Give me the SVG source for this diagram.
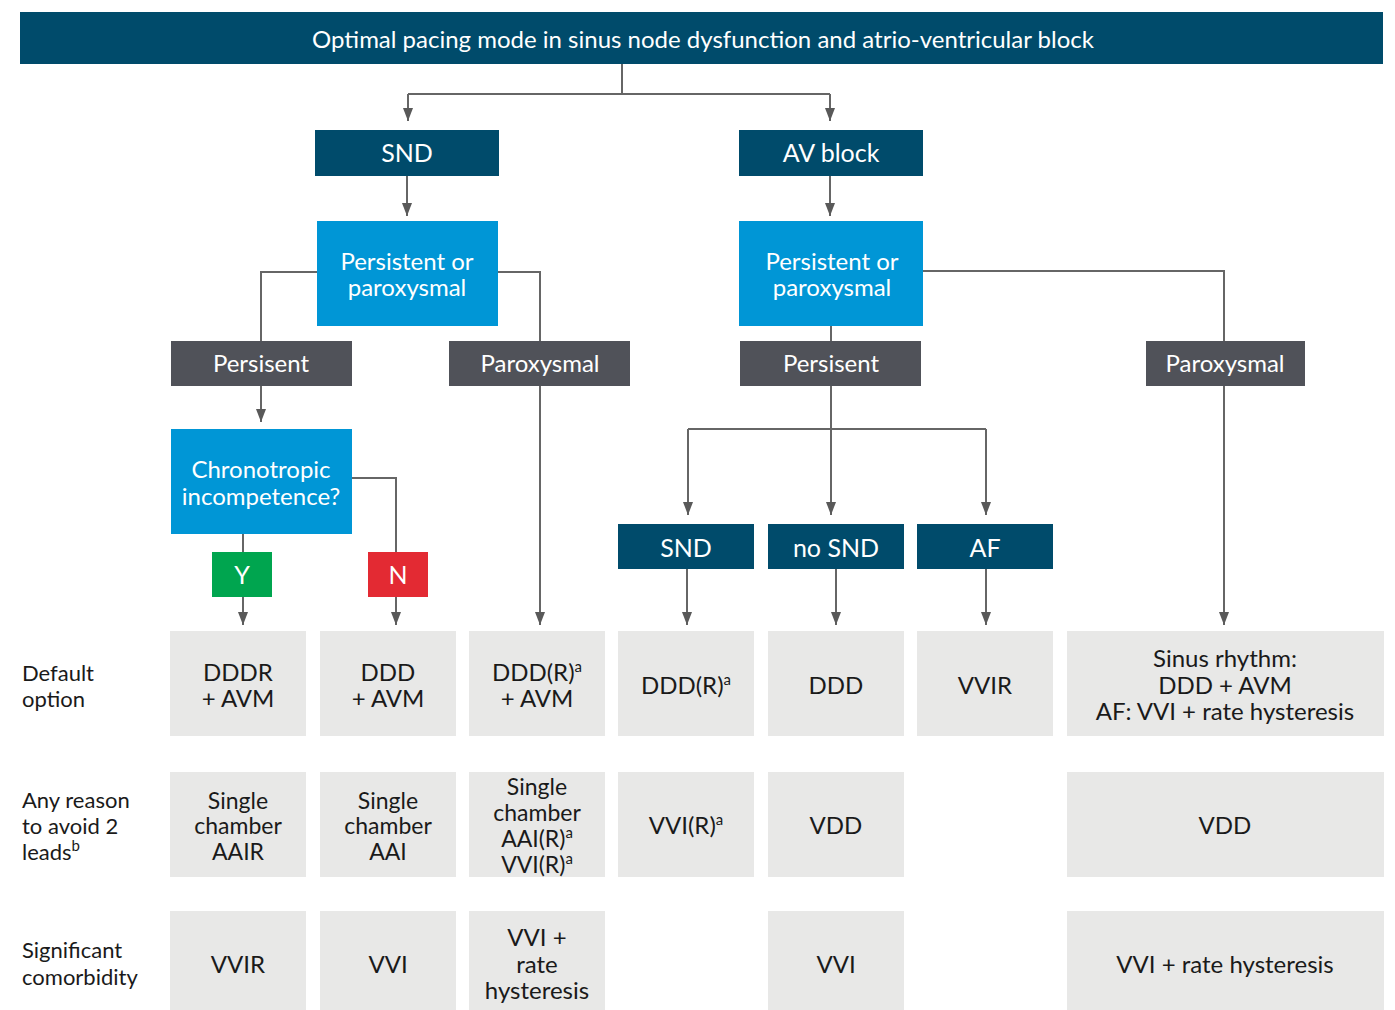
<svg xmlns="http://www.w3.org/2000/svg" width="1395" height="1010" viewBox="0 0 1395 1010">
<style>
text{font-family:Lato,"Open Sans","Liberation Sans",sans-serif;text-anchor:middle}
.w{fill:#fff}
.k{fill:#1a1a1a;font-size:24px}
.k2{fill:#1a1a1a;font-size:23px}
.lbl{fill:#1a1a1a;font-size:22px;text-anchor:start}
.navy{fill:#004B6B}
.blue{fill:#0096D6}
.gray{fill:#505259}
.cell{fill:#E8E8E7}
.c{fill:none;stroke:#666;stroke-width:2}
.sup{font-size:15px}
</style>
<defs>
<marker id="a" viewBox="0 0 13 10" refX="13" refY="5" markerWidth="13" markerHeight="10" markerUnits="userSpaceOnUse" orient="auto">
<path d="M0,0 L13,5 L0,10 Z" fill="#595959"/>
</marker>
</defs>

<g id="connectors">
<path class="c" d="M622,64 V94 M408,94 H830"/>
<path class="c" d="M408,94 V121" marker-end="url(#a)"/>
<path class="c" d="M830,94 V121" marker-end="url(#a)"/>
<path class="c" d="M407,176 V216" marker-end="url(#a)"/>
<path class="c" d="M830,176 V216" marker-end="url(#a)"/>
<path class="c" d="M317,272 H261 V341"/>
<path class="c" d="M498,272 H540 V341"/>
<path class="c" d="M831,326 V341"/>
<path class="c" d="M923,271 H1224 V341"/>
<path class="c" d="M261,386 V422" marker-end="url(#a)"/>
<path class="c" d="M352,478 H396 V552"/>
<path class="c" d="M243,534 V552"/>
<path class="c" d="M243,597 V625" marker-end="url(#a)"/>
<path class="c" d="M396,597 V625" marker-end="url(#a)"/>
<path class="c" d="M540,386 V625" marker-end="url(#a)"/>
<path class="c" d="M688,429 H986"/>
<path class="c" d="M831,386 V515" marker-end="url(#a)"/>
<path class="c" d="M688,429 V515" marker-end="url(#a)"/>
<path class="c" d="M986,429 V515" marker-end="url(#a)"/>
<path class="c" d="M687,569 V625" marker-end="url(#a)"/>
<path class="c" d="M836,569 V625" marker-end="url(#a)"/>
<path class="c" d="M986,569 V625" marker-end="url(#a)"/>
<path class="c" d="M1224,386 V625" marker-end="url(#a)"/>
</g>

<g id="header"><rect class="navy" x="20" y="12" width="1363" height="52"/><text class="w" x="703" y="48" font-size="24">Optimal pacing mode in sinus node dysfunction and atrio-ventricular block</text></g>

<g id="snd"><rect class="navy" x="315" y="130" width="184" height="46"/><text class="w" x="407" y="162" font-size="25">SND</text></g>
<g id="avblock"><rect class="navy" x="739" y="130" width="184" height="46"/><text class="w" x="831" y="162" font-size="25">AV block</text></g>

<g id="pp-left"><rect class="blue" x="317" y="221" width="181" height="105"/><text class="w" x="407" y="270" font-size="24">Persistent or</text><text class="w" x="407" y="296" font-size="24">paroxysmal</text></g>
<g id="pp-right"><rect class="blue" x="739" y="221" width="184" height="105"/><text class="w" x="832" y="270" font-size="24">Persistent or</text><text class="w" x="832" y="296" font-size="24">paroxysmal</text></g>

<g id="persistent-left"><rect class="gray" x="171" y="341" width="181" height="45"/><text class="w" x="261" y="372" font-size="24">Persisent</text></g>
<g id="paroxysmal-left"><rect class="gray" x="449" y="341" width="181" height="45"/><text class="w" x="540" y="372" font-size="24">Paroxysmal</text></g>
<g id="persistent-right"><rect class="gray" x="740" y="341" width="181" height="45"/><text class="w" x="831" y="372" font-size="24">Persisent</text></g>
<g id="paroxysmal-right"><rect class="gray" x="1146" y="341" width="159" height="45"/><text class="w" x="1225" y="372" font-size="24">Paroxysmal</text></g>

<g id="chrono"><rect class="blue" x="171" y="429" width="181" height="105"/><text class="w" x="261" y="478" font-size="24">Chronotropic</text><text class="w" x="261" y="505" font-size="24">incompetence?</text></g>
<g id="yes"><rect fill="#00A54F" x="212" y="552" width="60" height="45"/><text class="w" x="242" y="584" font-size="25">Y</text></g>
<g id="no"><rect fill="#E32A33" x="368" y="552" width="60" height="45"/><text class="w" x="398" y="584" font-size="25">N</text></g>

<g id="snd2"><rect class="navy" x="618" y="524" width="136" height="45"/><text class="w" x="686" y="557" font-size="25">SND</text></g>
<g id="nosnd"><rect class="navy" x="768" y="524" width="136" height="45"/><text class="w" x="836" y="557" font-size="25">no SND</text></g>
<g id="af"><rect class="navy" x="917" y="524" width="136" height="45"/><text class="w" x="985" y="557" font-size="25">AF</text></g>

<g id="labels">
<text class="lbl" x="22" y="681">Default</text><text class="lbl" x="22" y="707">option</text>
<text class="lbl" x="22" y="808">Any reason</text><text class="lbl" x="22" y="834">to avoid 2</text><text class="lbl" x="22" y="860">leads<tspan class="sup" baseline-shift="super">b</tspan></text>
<text class="lbl" x="22" y="958">Significant</text><text class="lbl" x="22" y="985">comorbidity</text>
</g>

<g id="r1c1"><rect class="cell" x="170" y="631" width="136" height="105"/><text class="k" x="238" y="681">DDDR</text><text class="k" x="238" y="707">+ AVM</text></g>
<g id="r1c2"><rect class="cell" x="320" y="631" width="136" height="105"/><text class="k" x="388" y="681">DDD</text><text class="k" x="388" y="707">+ AVM</text></g>
<g id="r1c3"><rect class="cell" x="469" y="631" width="136" height="105"/><text class="k" x="537" y="681">DDD(R)<tspan class="sup" baseline-shift="super">a</tspan></text><text class="k" x="537" y="707">+ AVM</text></g>
<g id="r1c4"><rect class="cell" x="618" y="631" width="136" height="105"/><text class="k" x="686" y="694">DDD(R)<tspan class="sup" baseline-shift="super">a</tspan></text></g>
<g id="r1c5"><rect class="cell" x="768" y="631" width="136" height="105"/><text class="k" x="836" y="694">DDD</text></g>
<g id="r1c6"><rect class="cell" x="917" y="631" width="136" height="105"/><text class="k" x="985" y="694">VVIR</text></g>
<g id="r1c7"><rect class="cell" x="1067" y="631" width="317" height="105"/><text class="k" x="1225" y="667">Sinus rhythm:</text><text class="k" x="1225" y="694">DDD + AVM</text><text class="k" x="1225" y="720">AF: VVI + rate hysteresis</text></g>

<g id="r2c1"><rect class="cell" x="170" y="772" width="136" height="105"/><text class="k2" x="238" y="809">Single</text><text class="k2" x="238" y="834">chamber</text><text class="k2" x="238" y="860">AAIR</text></g>
<g id="r2c2"><rect class="cell" x="320" y="772" width="136" height="105"/><text class="k2" x="388" y="809">Single</text><text class="k2" x="388" y="834">chamber</text><text class="k2" x="388" y="860">AAI</text></g>
<g id="r2c3"><rect class="cell" x="469" y="772" width="136" height="105"/><text class="k2" x="537" y="795">Single</text><text class="k2" x="537" y="821">chamber</text><text class="k2" x="537" y="847">AAI(R)<tspan class="sup" baseline-shift="super">a</tspan></text><text class="k2" x="537" y="873">VVI(R)<tspan class="sup" baseline-shift="super">a</tspan></text></g>
<g id="r2c4"><rect class="cell" x="618" y="772" width="136" height="105"/><text class="k" x="686" y="834">VVI(R)<tspan class="sup" baseline-shift="super">a</tspan></text></g>
<g id="r2c5"><rect class="cell" x="768" y="772" width="136" height="105"/><text class="k" x="836" y="834">VDD</text></g>
<g id="r2c7"><rect class="cell" x="1067" y="772" width="317" height="105"/><text class="k" x="1225" y="834">VDD</text></g>

<g id="r3c1"><rect class="cell" x="170" y="911" width="136" height="99"/><text class="k" x="238" y="973">VVIR</text></g>
<g id="r3c2"><rect class="cell" x="320" y="911" width="136" height="99"/><text class="k" x="388" y="973">VVI</text></g>
<g id="r3c3"><rect class="cell" x="469" y="911" width="136" height="99"/><text class="k" x="537" y="946">VVI +</text><text class="k" x="537" y="973">rate</text><text class="k" x="537" y="999">hysteresis</text></g>
<g id="r3c5"><rect class="cell" x="768" y="911" width="136" height="99"/><text class="k" x="836" y="973">VVI</text></g>
<g id="r3c7"><rect class="cell" x="1067" y="911" width="317" height="99"/><text class="k" x="1225" y="973">VVI + rate hysteresis</text></g>
</svg>
